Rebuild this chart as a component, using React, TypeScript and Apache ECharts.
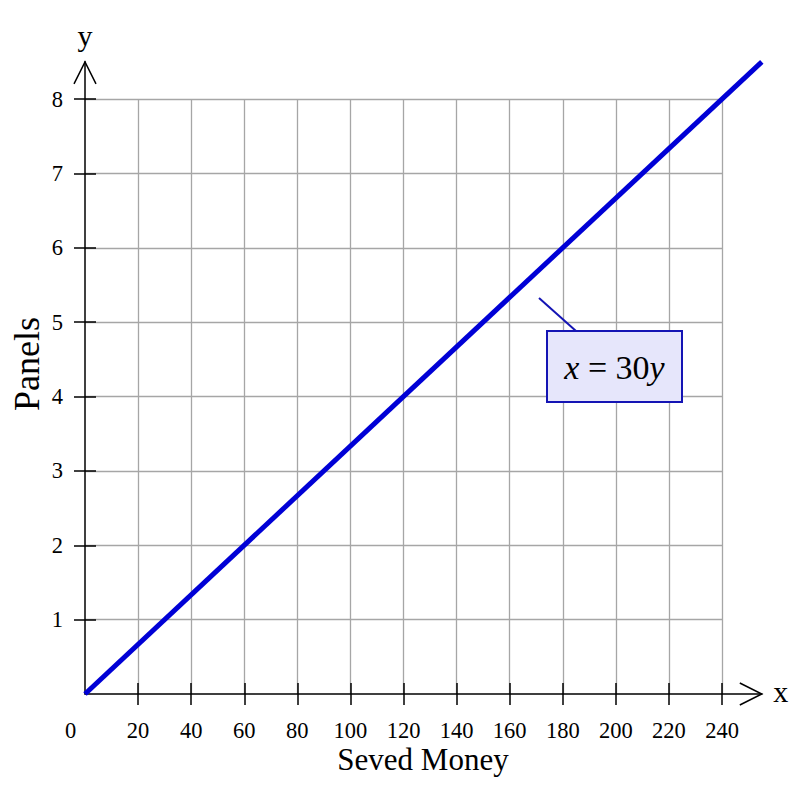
import React, { useEffect, useRef } from "react";
import * as echarts from "echarts";

const xTicks = [0, 20, 40, 60, 80, 100, 120, 140, 160, 180, 200, 220, 240];
const yTicks = [1, 2, 3, 4, 5, 6, 7, 8];
const lineX = [0, 255];
const lineY = [0, 8.5];
const xAxisTitle = "Seved Money";
const yAxisTitle = "Panels";
const equationParts = ["x", " = 30", "y"];

const FONT = '"Liberation Serif", "Times New Roman", serif';

export default function App() {
  const ref = useRef<HTMLDivElement>(null);

  useEffect(() => {
    if (!ref.current) return;
    const chart = echarts.init(ref.current, undefined, { renderer: "svg" });

    const gLeft = 85;
    const gTop = 99;
    const gW = 637;
    const gH = 595;
    const xMax0 = 240;
    const yMax0 = 8;
    const xMax1 = lineX[lineX.length - 1];
    const yMax1 = lineY[lineY.length - 1];
    const gW1 = (gW * xMax1) / xMax0;
    const gH1 = (gH * yMax1) / yMax0;

    const tickStyle = { color: "#000", width: 1.5 };
    const labelBase = { fontFamily: FONT, fontSize: 22.5, color: "#000", lineHeight: 21 };

    const option: any = {
      animation: false,
      backgroundColor: "#fff",
      grid: [
        { left: gLeft, top: gTop, width: gW, height: gH },
        { left: gLeft, top: gTop + gH - gH1, width: gW1, height: gH1 },
      ],
      xAxis: [
        {
          type: "value",
          gridIndex: 0,
          position: "bottom",
          min: 0,
          max: xMax0,
          interval: 20,
          axisLine: { show: false },
          axisTick: {
            show: true,
            inside: false,
            length: 11,
            customValues: xTicks.filter((v) => v > 0),
            lineStyle: tickStyle,
          },
          axisLabel: {
            ...labelBase,
            customValues: xTicks,
            margin: 26,
            formatter: (v: number) => (v === 0 ? "{o|0}" : String(v)),
            rich: { o: { ...labelBase, padding: [0, 29, 0, 0] } },
          },
          splitLine: { show: true, lineStyle: { color: "#a6a6a6", width: 1.3 } },
        },
        {
          type: "value",
          gridIndex: 0,
          position: "bottom",
          min: 0,
          max: xMax0,
          interval: 20,
          axisLine: { show: false },
          axisTick: {
            show: true,
            inside: true,
            length: 11,
            customValues: xTicks.filter((v) => v > 0),
            lineStyle: tickStyle,
          },
          axisLabel: { show: false },
          splitLine: { show: false },
        },
        {
          type: "value",
          gridIndex: 1,
          position: "bottom",
          min: 0,
          max: xMax1,
          axisLine: { show: true, lineStyle: { color: "#000", width: 1.5 } },
          axisTick: { show: false },
          axisLabel: { show: false },
          splitLine: { show: false },
        },
      ],
      yAxis: [
        {
          type: "value",
          gridIndex: 0,
          position: "left",
          min: 0,
          max: yMax0,
          interval: 1,
          axisLine: { show: false },
          axisTick: {
            show: true,
            inside: false,
            length: 11,
            customValues: yTicks,
            lineStyle: tickStyle,
          },
          axisLabel: { ...labelBase, customValues: yTicks, margin: 22 },
          splitLine: { show: true, lineStyle: { color: "#a6a6a6", width: 1.3 } },
        },
        {
          type: "value",
          gridIndex: 0,
          position: "left",
          min: 0,
          max: yMax0,
          interval: 1,
          axisLine: { show: false },
          axisTick: {
            show: true,
            inside: true,
            length: 11,
            customValues: yTicks,
            lineStyle: tickStyle,
          },
          axisLabel: { show: false },
          splitLine: { show: false },
        },
        {
          type: "value",
          gridIndex: 1,
          position: "left",
          min: 0,
          max: yMax1,
          axisLine: { show: true, lineStyle: { color: "#000", width: 1.5 } },
          axisTick: { show: false },
          axisLabel: { show: false },
          splitLine: { show: false },
        },
      ],
      series: [
        {
          type: "line",
          xAxisIndex: 2,
          yAxisIndex: 2,
          data: lineX.map((x, i) => [x, lineY[i]]),
          symbol: "none",
          clip: false,
          z: 10,
          lineStyle: { color: "#0000d6", width: 5, cap: "butt" },
        },
      ],
    };

    chart.setOption(option);

    const finder = { xAxisIndex: 2, yAxisIndex: 2 };
    const xEnd = chart.convertToPixel(finder, [xMax1, 0]) as number[];
    const yEnd = chart.convertToPixel(finder, [0, yMax1]) as number[];
    const origin = chart.convertToPixel(finder, [0, 0]) as number[];

    const arrowStyle = { stroke: "#000", lineWidth: 1.5, fill: null };
    const blue = "#1414b4";

    chart.setOption({
      graphic: [
        {
          type: "polyline",
          shape: {
            points: [
              [xEnd[0] - 22, xEnd[1] - 11],
              [xEnd[0], xEnd[1]],
              [xEnd[0] - 22, xEnd[1] + 11],
            ],
          },
          style: arrowStyle,
        },
        {
          type: "polyline",
          shape: {
            points: [
              [yEnd[0] - 11, yEnd[1] + 22],
              [yEnd[0], yEnd[1]],
              [yEnd[0] + 11, yEnd[1] + 22],
            ],
          },
          style: arrowStyle,
        },
        {
          type: "text",
          x: origin[0],
          y: 35,
          style: {
            text: "y",
            font: `30px ${FONT}`,
            fill: "#000",
            align: "center",
            verticalAlign: "middle",
          },
        },
        {
          type: "text",
          x: xEnd[0] + 19,
          y: origin[1] - 3,
          style: {
            text: "x",
            font: `30px ${FONT}`,
            fill: "#000",
            align: "center",
            verticalAlign: "middle",
          },
        },
        {
          type: "text",
          x: 27,
          y: 364,
          rotation: Math.PI / 2,
          style: {
            text: yAxisTitle,
            font: `36px ${FONT}`,
            fill: "#000",
            align: "center",
            verticalAlign: "middle",
          },
        },
        {
          type: "text",
          x: 423,
          y: 759,
          style: {
            text: xAxisTitle,
            fontFamily: FONT,
            fontSize: 31,
            lineHeight: 28,
            fill: "#000",
            align: "center",
            verticalAlign: "middle",
          },
        },
        {
          type: "line",
          z: 20,
          shape: { x1: 539, y1: 298, x2: 576, y2: 331 },
          style: { stroke: blue, lineWidth: 2 },
        },
        {
          type: "rect",
          z: 21,
          shape: { x: 547, y: 331, width: 135, height: 71 },
          style: { fill: "#e6e6fb", stroke: blue, lineWidth: 2 },
        },
        {
          type: "text",
          z: 22,
          x: 614.5,
          y: 367,
          style: {
            text: `{i|${equationParts[0]}}{n|${equationParts[1]}}{i|${equationParts[2]}}`,
            align: "center",
            verticalAlign: "middle",
            rich: {
              i: { fontFamily: FONT, fontSize: 34, fontStyle: "italic", fill: "#000" },
              n: { fontFamily: FONT, fontSize: 34, fill: "#000" },
            },
          },
        },
      ],
    });

    return () => chart.dispose();
  }, []);

  return (
    <div
      ref={ref}
      style={{ position: "absolute", left: 0, top: 0, width: 800, height: 786 }}
    />
  );
}
